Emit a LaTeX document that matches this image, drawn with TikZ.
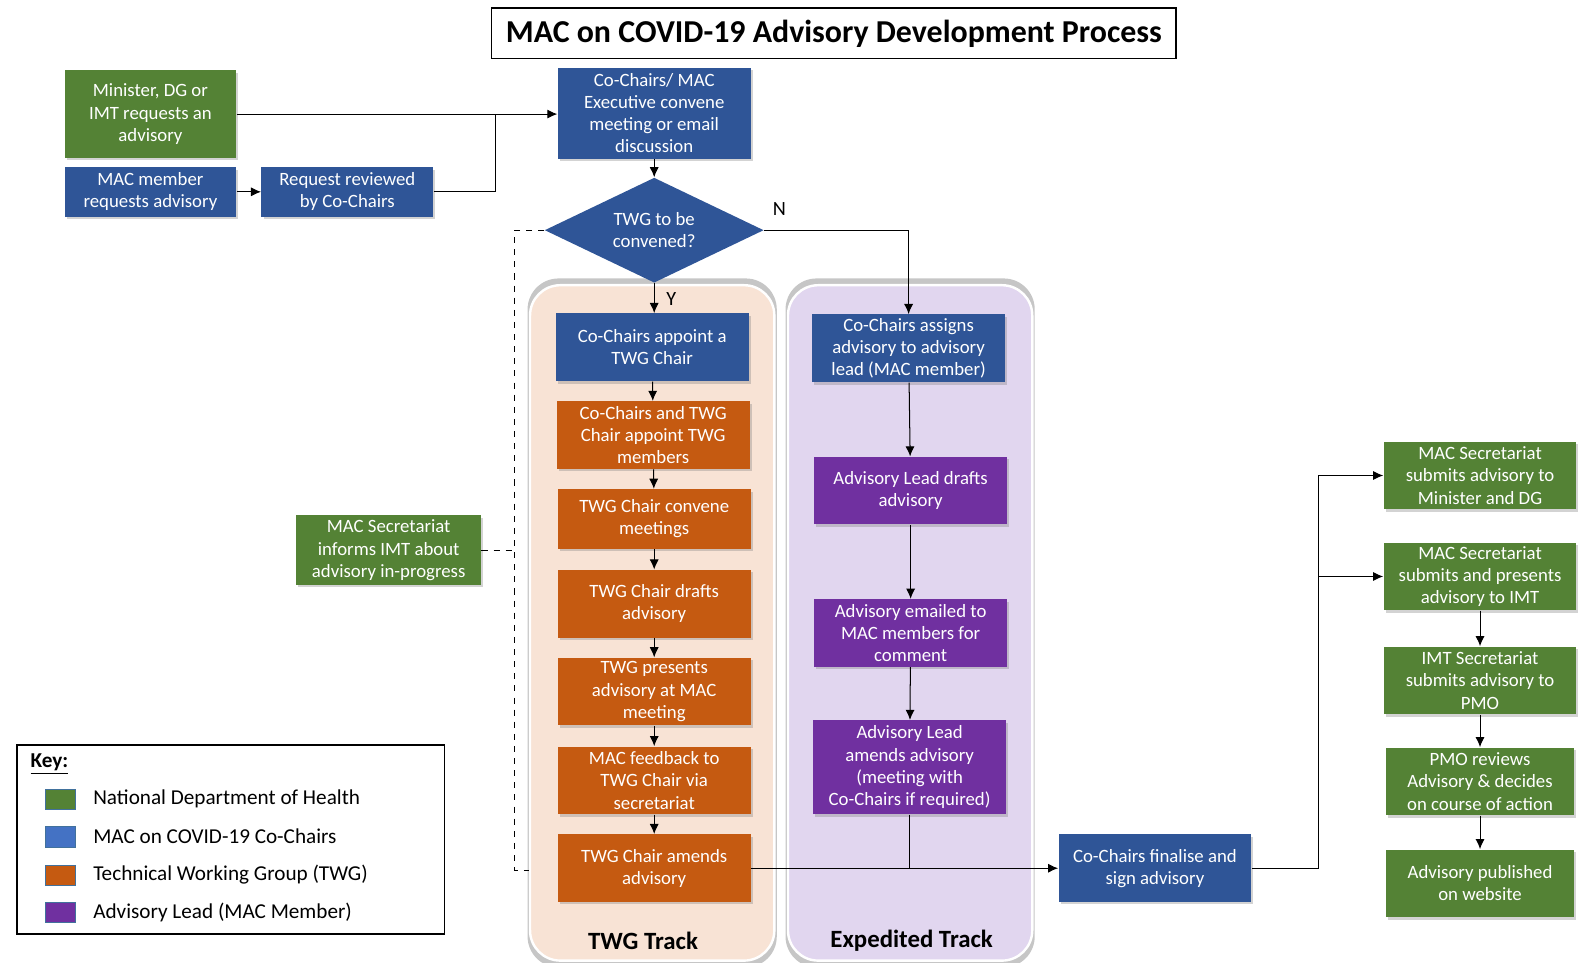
\documentclass[tikz,border=0pt]{standalone}
\usepackage{fontspec}
\setmainfont{Carlito}
\usetikzlibrary{arrows.meta,shapes}
\usetikzlibrary{shapes.geometric}
\usetikzlibrary{positioning}
\usetikzlibrary{shadows}
\definecolor{ndohgreen}{HTML}{548235}
\definecolor{chairblue}{HTML}{2F5597}
\definecolor{keyblue}{HTML}{4472C4}
\definecolor{twgorange}{HTML}{C55A11}
\definecolor{leadpurple}{HTML}{7030A0}
\definecolor{twgpeach}{HTML}{F8E3D5}
\definecolor{expeditelilac}{HTML}{E1D6EF}
\definecolor{keyedge}{HTML}{41719C}
\tikzset{
	>={Latex[length=5pt, width=4.5pt]},
	box/.style={rectangle, text=white, align=center, inner sep=1pt,
		minimum width=95.5pt, minimum height=33.5pt,
		font=\fontsize{9.3}{11}\selectfont,
		drop shadow={shadow xshift=1pt, shadow yshift=-1.2pt, opacity=.35}},
	greenbox/.style={box, fill=ndohgreen},
	bluebox/.style={box, fill=chairblue},
	orangebox/.style={box, fill=twgorange},
	purplebox/.style={box, fill=leadpurple},
	decision/.style={diamond, aspect=2, fill=chairblue, text=white, align=center, inner sep=0pt,
		minimum width=108.5pt, minimum height=52pt,
		font=\fontsize{9.3}{11}\selectfont},
	trackpanel/.style={rectangle, rounded corners=15pt, draw=white, line width=1.2pt,
		minimum width=121pt, minimum height=334.5pt,
		drop shadow={shadow xshift=0pt, shadow yshift=0pt, shadow scale=1.02, opacity=.45, fill=gray}},
	tracklabel/.style={font=\fontsize{12.3}{14}\selectfont\bfseries},
	flow/.style={draw=black, ->, line width=.5pt},
	link/.style={draw=black, line width=.5pt},
	feedback/.style={draw=black, dashed, line width=.5pt},
	swatch/.style={rectangle, draw=keyedge, line width=.4pt, minimum width=15pt, minimum height=10pt, inner sep=0pt},
	keytext/.style={anchor=west, inner sep=0pt, font=\fontsize{10.5}{12}\selectfont},
	branchlabel/.style={font=\fontsize{10}{12}\selectfont},
}
\begin{document}
\begin{tikzpicture}[x=0.5pt, y=-0.5pt]
		\useasboundingbox (0,0) rectangle (1568,953);
		% title and key
		\node[draw, line width=.7pt, minimum width=339pt, minimum height=25pt, font=\fontsize{15.8}{17}\selectfont\bfseries] (title) at (826,33) {MAC on COVID-19 Advisory Development Process};
		\node[draw, line width=.7pt, minimum width=211.5pt, minimum height=93.5pt] (key) at (228.5,831.5) {};
		\node[keytext, font=\fontsize{10.5}{12}\selectfont\bfseries] (keytitle) at (30,757) {\underline{Key:}};
		\node[swatch, fill=ndohgreen] (keyndoh) at (60,792) {};
			\node[keytext] (keyndohtext) at (92,791) {National Department of Health};
		\node[swatch, fill=keyblue] (keychairs) at (60,829) {};
			\node[keytext] (keychairstext) at (92,828) {MAC on COVID-19 Co-Chairs};
		\node[swatch, fill=twgorange] (keytwg) at (60,867) {};
			\node[keytext] (keytwgtext) at (92,866) {Technical Working Group (TWG)};
		\node[swatch, fill=leadpurple] (keylead) at (60,904) {};
			\node[keytext] (keyleadtext) at (92,904) {Advisory Lead (MAC Member)};
		% track panels
		\node[trackpanel, fill=twgpeach] (twgtrack) at (646,617) {};
		\node[trackpanel, fill=expeditelilac] (expeditetrack) at (901.5,617) {};
		\node[tracklabel] (twglabel) at (637,932) {TWG Track};
		\node[tracklabel] (expeditelabel) at (903,932) {Expedited Track};
		% requests
		\node[greenbox, minimum width=85pt, minimum height=43.5pt] (minister) at (149,113) {Minister, DG or\\IMT requests an\\advisory};
		\node[bluebox, minimum width=85pt, minimum height=24.5pt] (member) at (149,190) {MAC member\\requests advisory};
		\node[bluebox, minimum width=85pt, minimum height=24.5pt] (reviewed) at (344,190) {Request reviewed\\by Co-Chairs};
		\node[bluebox, minimum height=45pt] (convene) at (648,112) {Co-Chairs/ MAC\\Executive convene\\meeting or email\\discussion};
		\node[decision] (decide) at (648,228) {TWG to be\\convened?};
		\node[greenbox, minimum width=91.5pt, minimum height=34.5pt] (informs) at (385,545) {MAC Secretariat\\informs IMT about\\advisory in-progress};
		% TWG track
		\node[bluebox] (appoint) at (646,344) {Co-Chairs appoint a\\TWG Chair};
		\node[orangebox] (members) at (647,431) {Co-Chairs and TWG\\Chair appoint TWG\\members};
		\node[orangebox, minimum height=29.5pt] (meetings) at (648,514) {TWG Chair convene\\meetings};
		\node[orangebox] (drafts) at (648,598) {TWG Chair drafts\\advisory};
		\node[orangebox] (presents) at (648,685) {TWG presents\\advisory at MAC\\meeting};
		\node[orangebox] (feedback) at (648,773) {MAC feedback to\\TWG Chair via\\secretariat};
		\node[orangebox] (amends) at (648,860) {TWG Chair amends\\advisory};
		% expedited track
		\node[bluebox] (assign) at (900,345) {Co-Chairs assigns\\advisory to advisory\\lead (MAC member)};
		\node[purplebox] (leaddrafts) at (902,486) {Advisory Lead drafts\\advisory};
		\node[purplebox] (emailed) at (902,627) {Advisory emailed to\\MAC members for\\comment};
		\node[purplebox, minimum height=46.5pt] (leadamends) at (901,760) {Advisory Lead\\amends advisory\\(meeting with\\Co-Chairs if required)};
		% sign-off and release
		\node[bluebox] (finalise) at (1144,860) {Co-Chairs finalise and\\sign advisory};
		\node[greenbox] (secminister) at (1466,471) {MAC Secretariat\\submits advisory to\\Minister and DG};
		\node[greenbox] (secimt) at (1466,571) {MAC Secretariat\\submits and presents\\advisory to IMT};
		\node[greenbox] (imtsec) at (1466,674) {IMT Secretariat\\submits advisory to\\PMO};
		\node[greenbox, minimum width=93.5pt] (pmo) at (1466,774) {PMO reviews\\Advisory \& decides\\on course of action};
		\node[greenbox, minimum width=93.5pt] (published) at (1466,875) {Advisory published\\on website};
		% connectors
		\coordinate (merge) at (491,113);
		\coordinate (dashtop) at (510,228);
		\coordinate (dashbottom) at (510,862);
		\coordinate (split) at (1306,860);
		\draw[flow] (minister.east) -- (minister.east -| convene.west);
		\draw[flow] (member) -- (reviewed);
		\draw[link] (reviewed.east) -| (merge);
		\draw[flow] (convene) -- (decide);
		\draw[flow] (decide.east) -| (assign.north);
			\node[branchlabel] (nolabel) at (772,207) {N};
		\draw[flow] (decide.south) -- (decide.south |- appoint.north);
			\node[branchlabel] (yeslabel) at (665,296) {Y};
		\draw[feedback] (decide.west) -- (dashtop) -- (dashbottom) -- (dashbottom -| twgtrack.west);
		\draw[feedback] (informs.east) -- (informs.east -| dashtop);
		\draw[flow] (appoint) -- (members);
		\draw[flow] (members) -- (meetings);
		\draw[flow] (meetings) -- (drafts);
		\draw[flow] (drafts) -- (presents);
		\draw[flow] (presents) -- (feedback);
		\draw[flow] (feedback) -- (amends);
		\draw[flow] (assign) -- (leaddrafts);
		\draw[flow] (leaddrafts) -- (emailed);
		\draw[flow] (emailed) -- (leadamends);
		\draw[link] (leadamends.south) -- (leadamends.south |- finalise);
		\draw[flow] (amends.east) -- (finalise.west);
		\draw[flow] (finalise.east) -- (split) |- (secminister.west);
		\draw[flow] (split |- secimt) -- (secimt.west);
		\draw[flow] (secimt) -- (imtsec);
		\draw[flow] (imtsec) -- (pmo);
		\draw[flow] (pmo) -- (published);
\end{tikzpicture}
\end{document}
